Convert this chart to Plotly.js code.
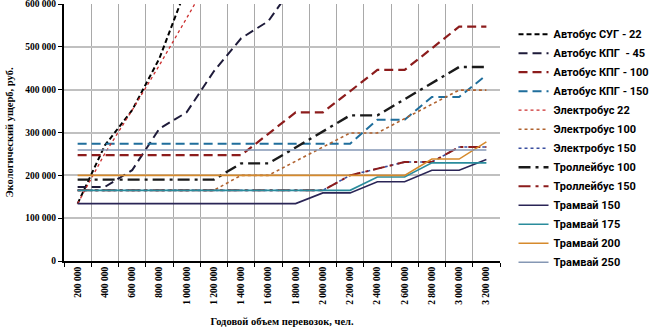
<!DOCTYPE html>
<html>
<head>
<meta charset="utf-8">
<script src="https://cdn.plot.ly/plotly-3.0.1.min.js"></script>
<style>
  html, body { margin: 0; padding: 0; background: #ffffff; }
  #chart { width: 659px; height: 334px; }
</style>
</head>
<body>
<div id="chart"></div>
<script>
// ---- categories (annual passenger volume) ----
const categories = ["200 000","400 000","600 000","800 000","1 000 000","1 200 000","1 400 000","1 600 000",
                    "1 800 000","2 000 000","2 200 000","2 400 000","2 600 000","2 800 000","3 000 000","3 200 000"];

// ---- series values (ecological damage, rub.) ----
const busLPG22   = [134000, 270000, 352000, 473000, 640000, null, null, null, null, null, null, null, null, null, null, null];
const busCNG45   = [173000, 173000, 212000, 309000, 347000, 443000, 520000, 560000, 650000, null, null, null, null, null, null, null];
const busCNG100  = [247000, 247000, 247000, 247000, 247000, 247000, 247000, 297000, 347000, 347000, 397000, 446000, 446000, 496000, 547000, 547000];
const busCNG150  = [274000, 274000, 274000, 274000, 274000, 274000, 274000, 274000, 274000, 274000, 274000, 330000, 330000, 383000, 383000, 434000];
const ebus22     = [134000, 251000, 352000, 457000, 567000, 677000, null, null, null, null, null, null, null, null, null, null];
const ebus100    = [165000, 165000, 165000, 165000, 165000, 165000, 200000, 200000, 233000, 266000, 299000, 299000, 333000, 366000, 399000, 399000];
const ebus150    = [165000, 165000, 165000, 165000, 165000, 165000, 165000, 165000, 165000, 165000, 200000, 216000, 231000, 231000, 266000, 266000];
const trolley100 = [190000, 190000, 190000, 190000, 190000, 190000, 228000, 228000, 265000, 303000, 340000, 340000, 377000, 415000, 453000, 453000];
const trolley150 = [165000, 165000, 165000, 165000, 165000, 165000, 165000, 165000, 165000, 165000, 200000, 216000, 231000, 231000, 266000, 266000];
const tram150    = [134000, 134000, 134000, 134000, 134000, 134000, 134000, 134000, 134000, 159000, 159000, 185000, 185000, 212000, 212000, 237000];
const tram175    = [165000, 165000, 165000, 165000, 165000, 165000, 165000, 165000, 165000, 165000, 165000, 196000, 196000, 229000, 229000, 229000];
const tram200    = [200000, 200000, 200000, 200000, 200000, 200000, 200000, 200000, 200000, 200000, 200000, 200000, 200000, 238000, 238000, 278000];
const tram250    = [259000, 259000, 259000, 259000, 259000, 259000, 259000, 259000, 259000, 259000, 259000, 259000, 259000, 259000, 259000, 259000];

const seriesNames = ["Автобус СУГ - 22", "Автобус КПГ  - 45", "Автобус КПГ - 100", "Автобус КПГ - 150",
                     "Электробус 22", "Электробус 100", "Электробус 150",
                     "Троллейбус 100", "Троллейбус 150",
                     "Трамвай 150", "Трамвай 175", "Трамвай 200", "Трамвай 250"];
const seriesValues = [busLPG22, busCNG45, busCNG100, busCNG150, ebus22, ebus100, ebus150,
                      trolley100, trolley150, tram150, tram175, tram200, tram250];

// styles (kept separate from data)
const styles = [
  {color: "#000000", dash: "5px,3px",  width: 2},
  {color: "#1e1b3a", dash: "9px,5px",  width: 2},
  {color: "#8c1c1c", dash: "9px,5px",  width: 2.2},
  {color: "#1f6e9c", dash: "9px,5px",  width: 2},
  {color: "#cc2f2f", dash: "dot",      width: 1.3},
  {color: "#b0622f", dash: "dot",      width: 1.6},
  {color: "#3a4fa0", dash: "dot",      width: 1.6},
  {color: "#1a1a1a", dash: "12px,5px,3px,5px", width: 2.4},
  {color: "#8c1c1c", dash: "12px,5px,3px,5px", width: 2},
  {color: "#2a2556", dash: "solid",    width: 1.6},
  {color: "#2a8c9c", dash: "solid",    width: 1.6},
  {color: "#d68a2c", dash: "solid",    width: 1.6},
  {color: "#8597b4", dash: "solid",    width: 1.6}
];

const traces = seriesValues.map((vals, i) => ({
  type: "scatter",
  mode: "lines",
  name: seriesNames[i],
  x: categories,
  y: vals,
  connectgaps: false,
  line: {color: styles[i].color, dash: styles[i].dash, width: styles[i].width},
  hoverinfo: "skip"
}));

const serif = "Liberation Serif, Times New Roman, serif";
const legendFont = "Liberation Sans Narrow, Arial Narrow, Roboto, Liberation Sans, sans-serif";

const layout = {
  width: 659,
  height: 334,
  paper_bgcolor: "#ffffff",
  plot_bgcolor: "#ffffff",
  separators: ". ",
  margin: {l: 64, r: 147, t: 4, b: 73, pad: 0},
  showlegend: true,
  legend: {
    x: 1.031, xanchor: "left",
    y: 0.939, yanchor: "top",
    font: {family: legendFont, size: 11, color: "#000000", weight: "bold"},
    bgcolor: "rgba(0,0,0,0)",
    borderwidth: 0,
    tracegroupgap: 0,
    itemwidth: 30
  },
  xaxis: {
    type: "category",
    tickson: "boundaries",
    range: [-0.5, 15.5],
    showgrid: true,
    gridcolor: "#a9a9a9",
    gridwidth: 1,
    showline: true,
    linecolor: "#000000",
    linewidth: 2,
    ticks: "outside",
    ticklen: 4,
    tickcolor: "#000000",
    tickwidth: 1,
    tickangle: -90,
    tickfont: {family: serif, size: 9.5, color: "#000000", weight: "bold"},
    title: {text: "Годовой объем перевозок, чел.", font: {family: serif, size: 10.5, color: "#000000", weight: "bold"}, standoff: 14},
    zeroline: false,
    fixedrange: true
  },
  yaxis: {
    range: [0, 600000],
    dtick: 100000,
    tick0: 0,
    tickformat: ",d",
    ticklabeloverflow: "allow",
    showgrid: true,
    gridcolor: "#c0c0c0",
    gridwidth: 2,
    showline: true,
    linecolor: "#000000",
    linewidth: 2,
    ticks: "outside",
    ticklen: 4,
    tickcolor: "#000000",
    tickwidth: 1,
    tickfont: {family: serif, size: 9.5, color: "#000000", weight: "bold"},
    title: {text: "Экологический ущерб, руб.", font: {family: serif, size: 10.5, color: "#000000", weight: "bold"}, standoff: 10},
    zeroline: false,
    fixedrange: true
  }
};

Plotly.newPlot("chart", traces, layout, {displayModeBar: false, staticPlot: true});
</script>
</body>
</html>
